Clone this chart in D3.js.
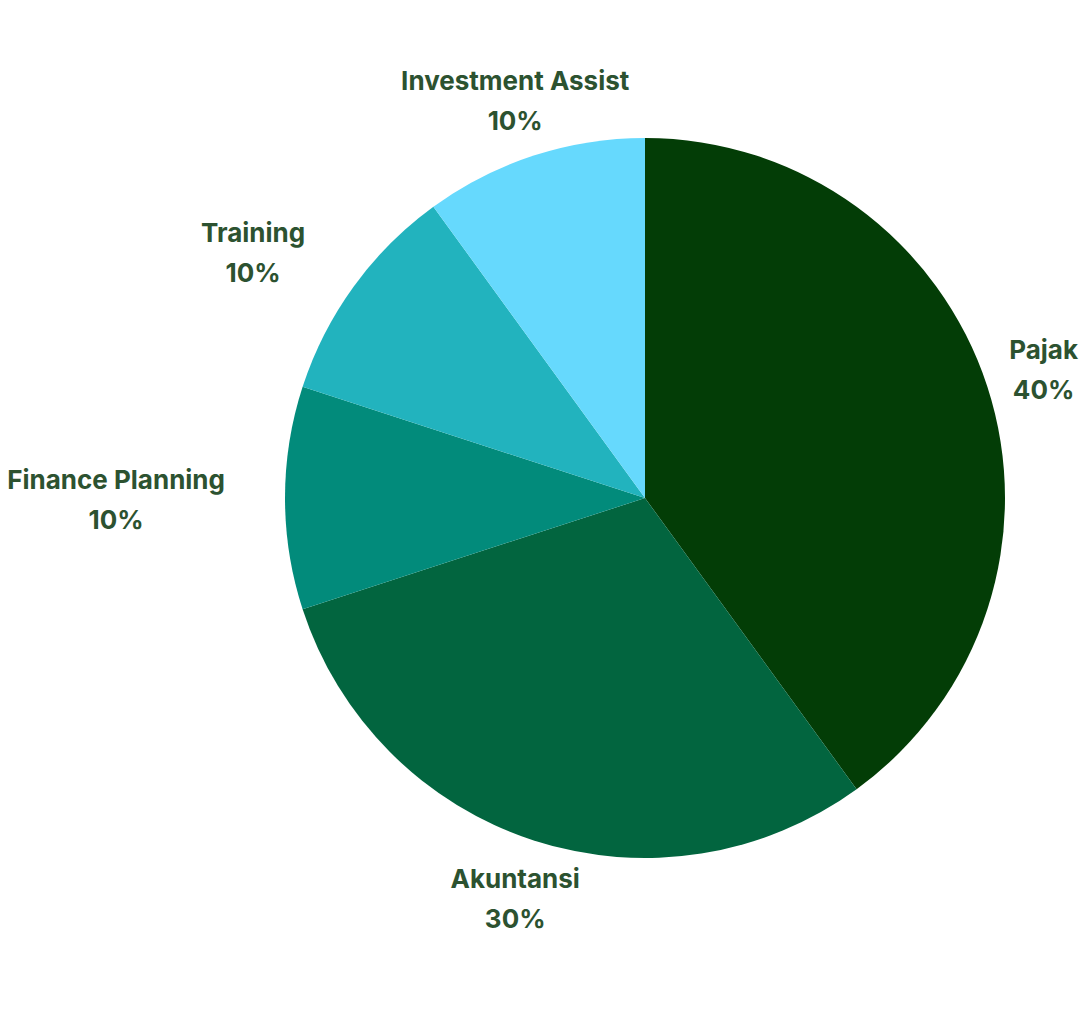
<!DOCTYPE html>
<meta charset="utf-8">
<style>
body { margin: 0; background: #fff; }
.label { font-family: Inter, "Open Sans", sans-serif; font-weight: 700; font-size: 26px; fill: #2c5230; }
</style>
<svg width="1080" height="1010"></svg>
<script src="https://d3js.org/d3.v7.min.js"></script>
<script>
var categories = ["Pajak", "Akuntansi", "Finance Planning", "Training", "Investment Assist"];
var values = [40, 30, 10, 10, 10];
var colors = ["#033d06", "#02653f", "#028b7b", "#22b3be", "#66d9fd"];

var svg = d3.select("svg"),
    width = +svg.attr("width"),
    height = +svg.attr("height");

var cx = 645, cy = 498, radius = 360, labelRadius = 420;

var pie = d3.pie().sort(null).value(function(d) { return d; });
var arc = d3.arc().innerRadius(0).outerRadius(radius);
var arcs = pie(values);

var g = svg.append("g").attr("transform", "translate(" + cx + "," + cy + ")");

g.selectAll("path")
  .data(arcs)
  .enter().append("path")
    .attr("d", arc)
    .attr("fill", function(d, i) { return colors[i]; });

// labels outside the pie, two lines: name and percent
var lineH = 40;
arcs.forEach(function(d, i) {
  var a = (d.startAngle + d.endAngle) / 2;
  var px = cx + labelRadius * Math.sin(a),
      py = cy - labelRadius * Math.cos(a);
  var t = svg.append("text").attr("class", "label").attr("text-anchor", "middle");
  t.append("tspan").attr("x", 0).attr("y", py - lineH / 2 + 11).text(categories[i]);
  t.append("tspan").attr("x", 0).attr("y", py + lineH / 2 + 11).text(values[i] + "%");
  var w = t.node().getBBox().width;
  var center = px;
  var s = Math.sin(a);
  if (s < -0.7) center = Math.max(px - w / 2, w / 2);
  if (s > 0.7) center = Math.min(px + w / 2, width - 2 - w / 2);
  t.selectAll("tspan").attr("x", center);
});
</script>
